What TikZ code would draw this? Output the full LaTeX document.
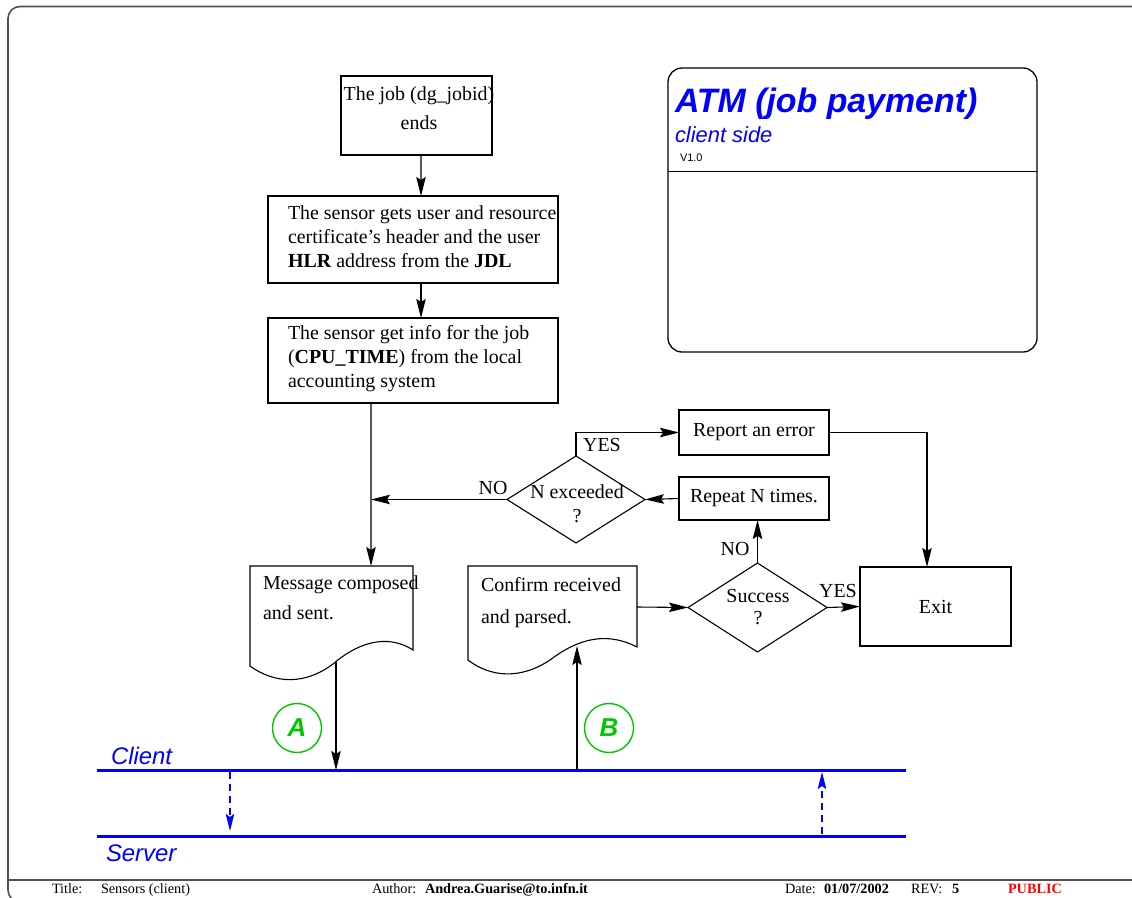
\documentclass[tikz,border=0pt]{standalone}
\usepackage{fontspec}
\setmainfont{Liberation Serif}
\newfontfamily\helv{Liberation Sans}
\usetikzlibrary{arrows.meta,shapes.geometric}

\definecolor{figblue}{RGB}{0,0,255}
\definecolor{figgreen}{RGB}{0,200,0}
\definecolor{figred}{RGB}{255,0,0}
\definecolor{framegray}{RGB}{80,80,80}

\begin{document}
\begin{tikzpicture}[x=1bp,y=-1bp,
  every node/.style={inner sep=0pt,outer sep=0pt},
  txt/.style={font=\fontsize{20}{24}\selectfont},
  procbox/.style={draw,line width=1.1bp,rectangle,font=\fontsize{20}{24}\selectfont},
  decision/.style={draw,line width=1.1bp,diamond},
  conn/.style={line width=1.1bp},
  tip/.style={-{Stealth[length=19bp,width=9.5bp,inset=3bp]}},
  lane/.style={draw=figblue,line width=3bp},
  lanelbl/.style={text=figblue,anchor=base west,font=\helv\itshape\fontsize{24}{28}\selectfont},
  msgflow/.style={figblue,line width=1.6bp,dash pattern=on 7bp off 5bp,
    -{Stealth[length=17bp,width=8.5bp,inset=3bp]}},
  refmark/.style={circle,draw=figgreen,line width=1.4bp,minimum size=49bp,text=figgreen,
    font=\helv\bfseries\itshape\fontsize{26}{26}\selectfont},
  foot/.style={anchor=base west,font=\fontsize{14.3}{15}\selectfont},
  footb/.style={foot,font=\bfseries\fontsize{14.3}{15}\selectfont},
]
\useasboundingbox (0,0) rectangle (1132,898);

% sheet frame and title-block separator
\draw[framegray,line width=1.6bp,rounded corners=12bp]
  (1150,6.5) -- (8,6.5) -- (8,902) -- (1150,902);
\draw[framegray,line width=1.2bp] (8,880) -- (1132,880);

% title block
\node[draw,line width=1.3bp,rounded corners=14bp,minimum width=369bp,minimum height=284bp]
  (atm) at (852.5,210) {};
\coordinate (atmsep) at (852,171);
\draw[line width=1bp] (atm.west |- atmsep) -- (atm.east |- atmsep);
\node[anchor=base west,text=figblue,font=\helv\bfseries\itshape\fontsize{34}{34}\selectfont]
  (atmtitle) at (675,112) {ATM (job payment)};
\node[anchor=base west,text=figblue,font=\helv\itshape\fontsize{22}{22}\selectfont]
  (atmsub) at (675,142) {client side};
\node[anchor=base west,font=\helv\fontsize{11}{11}\selectfont] (atmver) at (680,161) {V1.0};

% process boxes
\node[procbox,minimum width=151bp,minimum height=79bp] (jobend) at (416.5,115.5) {};
\node[align=center,font=\fontsize{20}{29}\selectfont] (jobendtxt) at (419,108)
  {The job (dg\_jobid)\\ends};

\node[procbox,minimum width=290bp,minimum height=87bp] (sensor) at (413,239.5) {};
\node[txt,align=left,anchor=west] (sensortxt) at (288,237)
  {The sensor gets user and resource\\certificate's header and the user\\\textbf{HLR} address from the \textbf{JDL}};

\node[procbox,minimum width=290bp,minimum height=85bp] (cpuinfo) at (413,360.5) {};
\node[txt,align=left,anchor=west] (cpuinfotxt) at (288,359)
  {The sensor get info for the job\\(\textbf{CPU\_TIME}) from the local\\accounting system};

\node[procbox,minimum width=150bp,minimum height=45bp] (report) at (754,432.5) {Report an error};
\node[procbox,minimum width=150bp,minimum height=43bp] (repeat) at (754,498.5) {Repeat N times.};
\node[procbox,minimum width=151bp,minimum height=79bp] (exit) at (935.5,606.5) {Exit};

% decisions
\node[decision,minimum width=138bp,minimum height=87bp] (nexc) at (576,499.5) {};
\node[txt,align=center] (nexctxt) at (577,504) {N exceeded\\?};
\node[decision,minimum width=139bp,minimum height=89bp] (succ) at (757.5,607.5) {};
\node[align=center,font=\fontsize{20}{22}\selectfont] (succtxt) at (758,607) {Success\\?};

% documents
\draw[conn] (250,566) -- (413,566) -- (413,650)
  .. controls (385,632) and (355,645) .. (333,664)
  .. controls (305,685) and (275,684) .. (250,666) -- cycle;
\node[anchor=north west,align=left,font=\fontsize{20}{30}\selectfont] (msgtxt) at (263,576)
  {Message composed\\and sent.};
\coordinate (msgin) at (371,566);
\coordinate (msgout) at (336,661.5);

\draw[conn] (468,566) -- (637,566) -- (637,647)
  .. controls (600,628) and (570,645) .. (550,660)
  .. controls (520,680) and (490,677) .. (468,660) -- cycle;
\node[anchor=north west,align=left,font=\fontsize{20}{33}\selectfont] (cftxt) at (481,577)
  {Confirm received\\and parsed.};
\coordinate (cfin) at (577,646);
\coordinate (cfout) at (637,607);

% client / server lanes
\coordinate (clientL) at (97,770);
\coordinate (clientR) at (906,770);
\coordinate (serverL) at (97,836);
\coordinate (serverR) at (906,836);
\draw[lane] (clientL) -- (clientR);
\draw[lane] (serverL) -- (serverR);
\node[lanelbl] (clientlbl) at (111,764) {Client};
\node[lanelbl] (serverlbl) at (106,861) {Server};
\coordinate (cfsrc) at (577,770);
\coordinate (reqtop) at (230,772);
\coordinate (reqbot) at (230,831);
\coordinate (ansbot) at (822,834);
\coordinate (anstop) at (822,772);
\draw[msgflow] (reqtop) -- (reqbot);
\draw[msgflow] (ansbot) -- (anstop);

% reference marks
\node[refmark] (markA) at (297,728) {A};
\node[refmark] (markB) at (609,728) {B};

% flow connectors
\draw[conn,tip] ([xshift=4.5bp]jobend.south) -- ([xshift=8bp]sensor.north);
\draw[conn,tip] ([xshift=8bp]sensor.south) -- ([xshift=8bp]cpuinfo.north);
\draw[conn,tip] ([xshift=-42bp]cpuinfo.south) -- (msgin);
\coordinate (merge) at (371,499.5);
\draw[conn,tip] (nexc.west) -- (merge);
\draw[conn,tip] (nexc.north) |- (report.west);
\draw[conn,tip] (repeat.west) -- (nexc.east);
\draw[conn,tip] (report.east) -| ([xshift=-8.5bp]exit.north);
\draw[conn,tip] (succ.north) -- (succ.north |- repeat.south);
\draw[conn,tip] (succ.east) -- (exit.west);
\draw[conn,tip] (cfout) -- (succ.west);
\draw[conn,tip] (msgout) -- (msgout |- clientR);
\draw[conn,tip] (cfsrc) -- (cfin);

% branch labels
\node[txt,anchor=base] (lnoA) at (493,494) {NO};
\node[txt,anchor=base] (lyesA) at (602,451) {YES};
\node[txt,anchor=base] (lnoB) at (735,555) {NO};
\node[txt,anchor=base] (lyesB) at (838,597) {YES};

% title-block footer
\node[foot] (ftitlek) at (52,893) {Title:};
\node[foot] (ftitle) at (101,893) {Sensors (client)};
\node[foot] (fauthk) at (372,893) {Author:};
\node[footb] (fauth) at (425,893) {Andrea.Guarise@to.infn.it};
\node[foot] (fdatek) at (785,893) {Date:};
\node[footb] (fdate) at (824,893) {01/07/2002};
\node[foot] (frevk) at (911,893) {REV:};
\node[footb] (frev) at (952,893) {5};
\node[footb,text=figred] (fclass) at (1008,893) {PUBLIC};
\end{tikzpicture}
\end{document}
